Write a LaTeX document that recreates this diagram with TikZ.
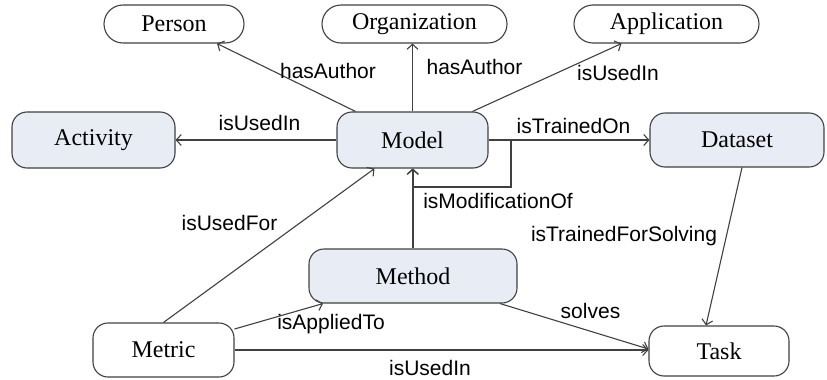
\documentclass[tikz,border=0pt]{standalone}
\usepackage{fontspec}
\setmainfont{Liberation Serif}
\newfontfamily\labelfont{Liberation Sans}
\usetikzlibrary{arrows.meta}
\definecolor{nodefill}{HTML}{E8EDF5}
\definecolor{linegray}{HTML}{404040}
\tikzset{
  pill/.style={draw=linegray, line width=1.1pt, fill=white, rounded corners=19pt, minimum height=38pt, inner sep=0pt, font=\fontsize{24}{28}\selectfont},
  boxw/.style={draw=linegray, line width=1.1pt, fill=white, rounded corners=15pt, minimum height=54pt, inner sep=0pt, font=\fontsize{24}{28}\selectfont},
  boxf/.style={boxw, fill=nodefill},
  arr/.style={draw=linegray, line width=1.1pt, -{Straight Barb[length=5pt,width=11pt]}},
  lbl/.style={font=\labelfont\fontsize{21}{24}\selectfont, inner sep=0pt, text=black}
}
\begin{document}
\begin{tikzpicture}[x=1pt,y=-1pt]
\useasboundingbox (0,0) rectangle (827,380);
% nodes
\node[pill, minimum width=140pt] (person) at (174,24) {Person};
\node[pill, minimum width=185pt] (org) at (414.5,24) {Organization};
\node[pill, minimum width=185pt] (app) at (666.5,24) {Application};
\node[boxf, minimum width=163pt, minimum height=56pt] (activity) at (93.5,140) {Activity};
\node[boxf, minimum width=151pt, minimum height=56pt] (model) at (412.5,140) {Model};
\node[boxf, minimum width=174pt] (dataset) at (737,140) {Dataset};
\node[boxf, minimum width=208pt] (method) at (413,276) {Method};
\node[boxw, minimum width=141pt] (metric) at (163.5,350) {Metric};
\node[boxw, minimum width=140pt, minimum height=50pt] (task) at (719,351) {Task};
\coordinate (loopc) at (511,187);
% edges
\draw[arr] ([xshift=-57pt]model.north) -- ([xshift=43pt]person.south);
\draw[arr] (model.north) -- (model.north |- org.south);
\draw[arr] ([xshift=60pt]model.north) -- ([xshift=-45pt]app.south);
\draw[arr] (model.west) -- (activity.east);
\draw[arr] (model.east) -- (dataset.west);
\draw[arr] (model.east) -| (loopc) -| (model.south);
\draw[arr] (method.north) -- (method.north |- model.south);
\draw[arr] (metric.north) -- ([xshift=-38pt]model.south);
\draw[arr] ([yshift=21pt]metric.east) -- ([xshift=-90pt]method.south);
\draw[arr] (metric.east) -- (metric.east -| task.west);
\draw[arr] ([xshift=87pt]method.south) -- ([yshift=2pt]task.west);
\draw[arr] ([xshift=5pt]dataset.south) -- ([xshift=-13pt]task.north);
% labels
\node[lbl] (l1) at (328,71) {hasAuthor};
\node[lbl] (l2) at (474.5,66.5) {hasAuthor};
\node[lbl] (l3) at (618,72.5) {isUsedIn};
\node[lbl] (l4) at (259.5,122.5) {isUsedIn};
\node[lbl] (l5) at (573.5,125.5) {isTrainedOn};
\node[lbl] (l6) at (498,201) {isModificationOf};
\node[lbl] (l7) at (229.5,223) {isUsedFor};
\node[lbl] (l8) at (624,236) {isTrainedForSolving};
\node[lbl] (l9) at (331,324) {isAppliedTo};
\node[lbl] (l10) at (590.5,310.5) {solves};
\node[lbl] (l11) at (430,368) {isUsedIn};
\end{tikzpicture}
\end{document}
